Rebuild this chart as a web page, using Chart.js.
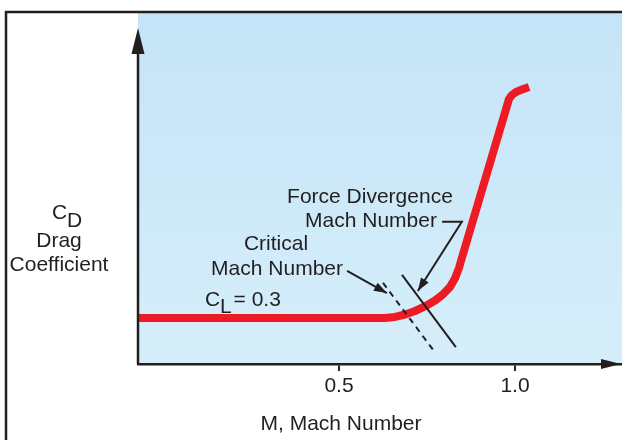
<!DOCTYPE html>
<html>
<head>
<meta charset="utf-8">
<script src="https://cdn.jsdelivr.net/npm/chart.js@4.4.1/dist/chart.umd.min.js"></script>
<style>
  html, body { margin: 0; padding: 0; background: #fff; }
  canvas { display: block; }
</style>
</head>
<body>
<canvas id="drag-chart" width="622" height="440"></canvas>
<script>
// drag rise with Mach number, C_L = 0.3 (drag axis has no units, 0..1 of plot height)
const machValues = [-0.071, 0.631, 0.659, 0.688, 0.716, 0.744, 0.773, 0.795, 0.815, 0.830, 0.841, 0.849,
                    0.983, 0.991, 1.003, 1.017, 1.040];
const dragValues = [0.131, 0.131, 0.134, 0.141, 0.151, 0.164, 0.181, 0.198, 0.219, 0.245, 0.274, 0.302,
                    0.755, 0.766, 0.775, 0.781, 0.789];

const xTickValues = [0.5, 1.0];

// marker lines
const criticalMach = [0.625, 0.770];
const criticalCd = [0.231, 0.037];
const divergenceMach = [0.679, 0.832];
const divergenceCd = [0.254, 0.048];

// leader lines (last point is the arrow tip)
const criticalLeaderMach = [0.523, 0.636];
const criticalLeaderCd = [0.265, 0.202];
const divergenceLeaderMach = [0.793, 0.849, 0.724];
const divergenceLeaderCd = [0.405, 0.405, 0.208];

// notes, centred on mach value, baseline at drag value
const noteTexts = ['Force Divergence', 'Mach Number', 'Critical', 'Mach Number'];
const noteMach = [0.588, 0.591, 0.321, 0.324];
const noteCd = [0.459, 0.390, 0.325, 0.254];
const liftNoteMach = 0.119;
const liftNoteCd = 0.165;

const ink = '#231f20';
const red = '#ed1c24';
const font = '"Liberation Sans", Arial, Helvetica, sans-serif';
const textSize = 21;

Chart.defaults.font.family = font;
Chart.defaults.font.size = textSize;
Chart.defaults.color = ink;

const pointsOf = (xs, ys) => xs.map((x, i) => ({ x: x, y: ys[i] }));

function arrowHead(ctx, fromX, fromY, toX, toY, len, half) {
    const ang = Math.atan2(toY - fromY, toX - fromX);
    ctx.beginPath();
    ctx.moveTo(toX, toY);
    ctx.lineTo(toX - len * Math.cos(ang) + half * Math.sin(ang), toY - len * Math.sin(ang) - half * Math.cos(ang));
    ctx.lineTo(toX - len * Math.cos(ang) - half * Math.sin(ang), toY - len * Math.sin(ang) + half * Math.cos(ang));
    ctx.closePath();
    ctx.fill();
}

const framePlugin = {
    id: 'frame',
    beforeDraw(chart) {
        const { ctx, chartArea: a } = chart;
        ctx.save();
        const g = ctx.createLinearGradient(0, a.top, 0, a.bottom);
        g.addColorStop(0, '#c4e4f7');
        g.addColorStop(1, '#d6eefa');
        ctx.fillStyle = g;
        ctx.fillRect(a.left, a.top, a.right - a.left, a.bottom - a.top);

        // outer box
        ctx.strokeStyle = ink;
        ctx.lineWidth = 2.5;
        ctx.beginPath();
        ctx.moveTo(6, chart.height);
        ctx.lineTo(6, 12);
        ctx.lineTo(chart.width, 12);
        ctx.stroke();
        ctx.restore();
    },
    afterDatasetsDraw(chart) {
        const { ctx } = chart;
        const xs = chart.scales.x, ys = chart.scales.y;
        ctx.save();
        ctx.fillStyle = ink;
        [[criticalLeaderMach, criticalLeaderCd], [divergenceLeaderMach, divergenceLeaderCd]].forEach(([mx, cy]) => {
            const n = mx.length;
            arrowHead(ctx,
                xs.getPixelForValue(mx[n - 2]), ys.getPixelForValue(cy[n - 2]),
                xs.getPixelForValue(mx[n - 1]), ys.getPixelForValue(cy[n - 1]), 13, 4.5);
        });
        ctx.restore();
    },
    afterDraw(chart) {
        const { ctx, chartArea: a } = chart;
        const xs = chart.scales.x, ys = chart.scales.y;
        ctx.save();
        ctx.strokeStyle = ink;
        ctx.fillStyle = ink;

        // y axis with arrow
        ctx.lineWidth = 2.5;
        ctx.beginPath();
        ctx.moveTo(a.left, a.bottom);
        ctx.lineTo(a.left, 45);
        ctx.stroke();
        arrowHead(ctx, a.left, 60, a.left, 28, 26, 6.5);

        // x axis arrow
        arrowHead(ctx, 590, a.bottom, 621, a.bottom, 20, 5);

        // texts
        ctx.font = textSize + 'px ' + font;
        ctx.textBaseline = 'alphabetic';
        ctx.textAlign = 'center';
        noteTexts.forEach((t, i) => {
            ctx.fillText(t, xs.getPixelForValue(noteMach[i]), ys.getPixelForValue(noteCd[i]));
        });

        ctx.textAlign = 'left';
        const lx = xs.getPixelForValue(liftNoteMach), ly = ys.getPixelForValue(liftNoteCd);
        ctx.fillText('C', lx, ly);
        const cw = ctx.measureText('C').width;
        ctx.fillText('L', lx + cw, ly + 7);
        const lw = ctx.measureText('L').width;
        ctx.fillText(' = 0.3', lx + cw + lw - 4, ly);

        // axis titles
        ctx.fillText('C', 52, 219);
        ctx.fillText('D', 67, 227);
        ctx.textAlign = 'center';
        ctx.fillText('Drag', 59, 247);
        ctx.fillText('Coefficient', 59, 271);
        ctx.fillText('M, Mach Number', 341, 430);
        ctx.restore();
    }
};

new Chart(document.getElementById('drag-chart'), {
    type: 'line',
    data: {
        datasets: [{
            label: 'C_D',
            data: pointsOf(machValues, dragValues),
            borderColor: red,
            borderWidth: 8,
            borderCapStyle: 'butt',
            borderJoinStyle: 'round',
            tension: 0,
            pointRadius: 0,
            order: 5
        }, {
            label: 'Critical Mach Number',
            data: pointsOf(criticalMach, criticalCd),
            borderColor: ink,
            borderWidth: 2,
            borderDash: [6, 5],
            pointRadius: 0,
            order: 1
        }, {
            label: 'Force Divergence Mach Number',
            data: pointsOf(divergenceMach, divergenceCd),
            borderColor: ink,
            borderWidth: 2,
            pointRadius: 0,
            order: 1
        }, {
            label: 'critical leader',
            data: pointsOf(criticalLeaderMach, criticalLeaderCd),
            borderColor: ink,
            borderWidth: 2,
            pointRadius: 0,
            order: 1
        }, {
            label: 'divergence leader',
            data: pointsOf(divergenceLeaderMach, divergenceLeaderCd),
            borderColor: ink,
            borderWidth: 2,
            pointRadius: 0,
            order: 1
        }]
    },
    options: {
        responsive: false,
        animation: false,
        events: [],
        layout: { padding: { left: 138, top: 13, right: 0, bottom: 0 } },
        plugins: {
            legend: { display: false },
            tooltip: { enabled: false }
        },
        scales: {
            x: {
                type: 'linear',
                min: -0.071,
                max: 1.304,
                afterFit: scale => { scale.height = 76; },
                afterBuildTicks: scale => { scale.ticks = xTickValues.map(v => ({ value: v })); },
                grid: { drawOnChartArea: false, tickLength: 7, color: ink, lineWidth: 2 },
                border: { display: true, color: ink, width: 2.5 },
                ticks: {
                    color: ink,
                    font: { size: textSize },
                    maxRotation: 0,
                    autoSkip: false,
                    padding: 3,
                    callback: v => v.toFixed(1)
                }
            },
            y: {
                type: 'linear',
                display: false,
                min: 0,
                max: 1
            }
        }
    },
    plugins: [framePlugin]
});
</script>
</body>
</html>
